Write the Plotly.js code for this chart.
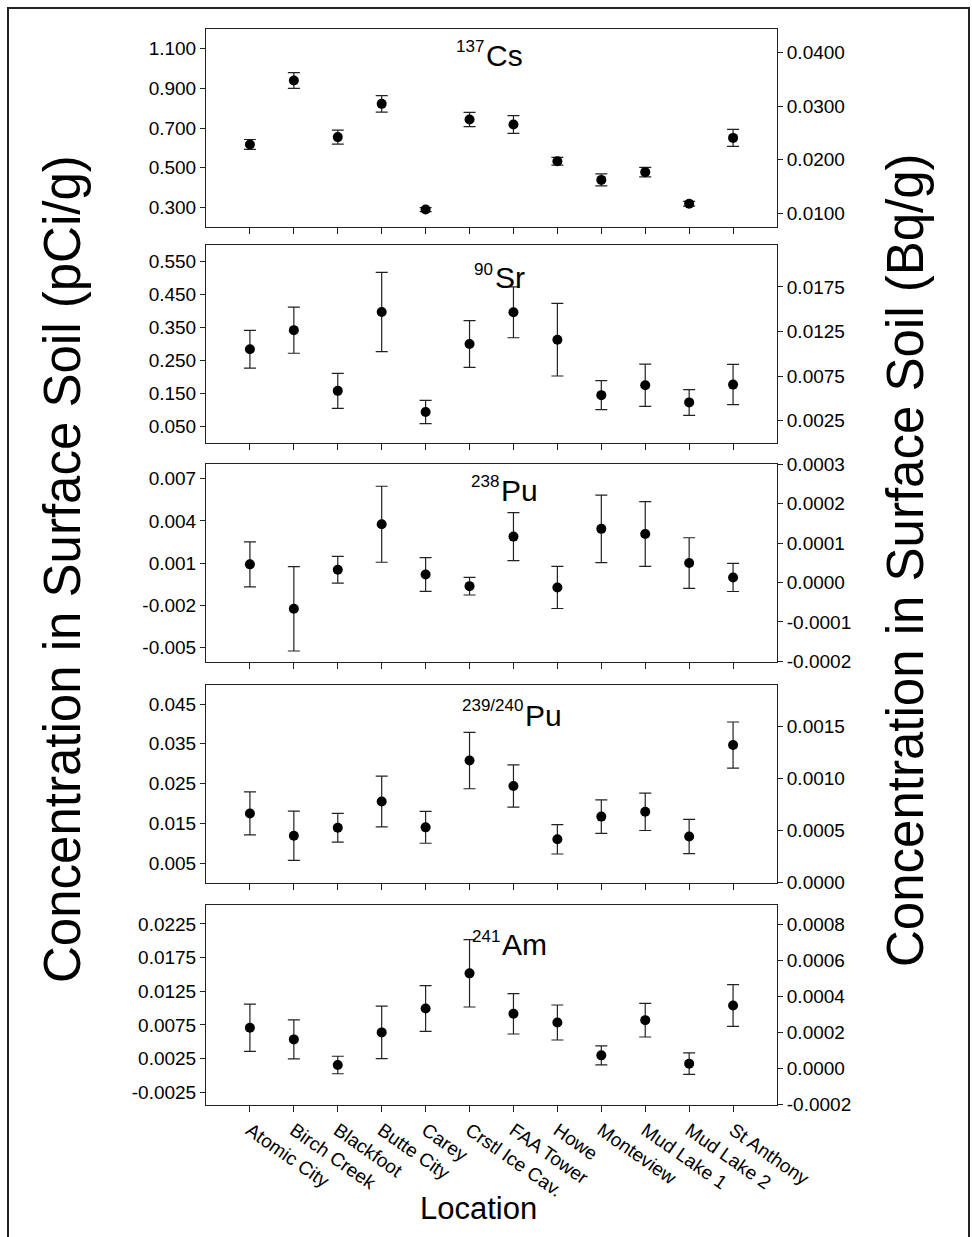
<!DOCTYPE html>
<html>
<head>
<meta charset="utf-8">
<script src="https://cdn.plot.ly/plotly-3.0.1.min.js"></script>
<style>
html,body{margin:0;padding:0;background:#fff;}
#chart{width:972px;height:1237px;}
</style>
</head>
<body>
<div id="chart"></div>
<script>
// ---------------- data ----------------
const locations = ["Atomic City","Birch Creek","Blackfoot","Butte City","Carey","Crstl Ice Cav.",
                   "FAA Tower","Howe","Monteview","Mud Lake 1","Mud Lake 2","St Anthony"];

const cs137    = [0.617, 0.940, 0.654, 0.822, 0.288, 0.743, 0.718, 0.532, 0.438, 0.477, 0.317, 0.650];
const cs137Err = [0.025, 0.040, 0.035, 0.042, 0.010, 0.036, 0.045, 0.020, 0.030, 0.024, 0.012, 0.043];

const sr90     = [0.284, 0.342, 0.158, 0.397, 0.094, 0.300, 0.396, 0.313, 0.145, 0.175, 0.123, 0.177];
const sr90Err  = [0.057, 0.070, 0.053, 0.120, 0.035, 0.071, 0.077, 0.110, 0.044, 0.064, 0.039, 0.061];

const pu238    = [0.00092, -0.00224, 0.00054, 0.00377, 0.00020, -0.00063, 0.00289, -0.00072, 0.00344, 0.00308, 0.00101, -0.00001];
const pu238Err = [0.0016, 0.0030, 0.00095, 0.0027, 0.0012, 0.00063, 0.0017, 0.0015, 0.0024, 0.0023, 0.0018, 0.0010];

const pu239    = [0.0175, 0.0119, 0.0139, 0.0205, 0.0140, 0.0308, 0.0244, 0.0110, 0.0167, 0.0179, 0.0117, 0.0347];
const pu239Err = [0.0054, 0.0062, 0.0036, 0.0064, 0.0040, 0.0071, 0.0053, 0.0037, 0.0042, 0.0047, 0.0043, 0.0058];

const am241    = [0.00707, 0.00534, 0.00154, 0.00638, 0.00993, 0.01515, 0.00914, 0.00785, 0.00297, 0.00820, 0.00174, 0.01037];
const am241Err = [0.0035, 0.0029, 0.0013, 0.0039, 0.0034, 0.0050, 0.0030, 0.0026, 0.0014, 0.0025, 0.0016, 0.0031];

// tick labels (left: pCi/g, right: Bq/g)
const csTicksL  = ["0.300","0.500","0.700","0.900","1.100"];
const csTicksR  = ["0.0100","0.0200","0.0300","0.0400"];
const srTicksL  = ["0.050","0.150","0.250","0.350","0.450","0.550"];
const srTicksR  = ["0.0025","0.0075","0.0125","0.0175"];
const p238TicksL = ["-0.005","-0.002","0.001","0.004","0.007"];
const p238TicksR = ["-0.0002","-0.0001","0.0000","0.0001","0.0002","0.0003"];
const p239TicksL = ["0.005","0.015","0.025","0.035","0.045"];
const p239TicksR = ["0.0000","0.0005","0.0010","0.0015"];
const amTicksL  = ["-0.0025","0.0025","0.0075","0.0125","0.0175","0.0225"];
const amTicksR  = ["-0.0002","0.0000","0.0002","0.0004","0.0006","0.0008"];

// ---------------- layout helpers ----------------
const W = 972, H = 1237;
const FONT = "Liberation Sans, Arial, Helvetica, sans-serif";
const INK = "#222";
const TICK = 19;
const px = v => v / W;
const py = v => 1 - v / H;

const xDom = [px(206), px(777)];
const panels = [
  {y: cs137, e: cs137Err, top: 29,  bot: 227, rangeL: [0.2, 1.2],       tL: csTicksL,  rangeR: [0.0074, 0.0444],      tR: csTicksR,
   sup: "137", sym: "Cs", bx: 485, supY: 47, symY: 55},
  {y: sr90,  e: sr90Err,  top: 245, bot: 443, rangeL: [0, 0.6],         tL: srTicksL,  rangeR: [0, 0.0222],           tR: srTicksR,
   sup: "90", sym: "Sr", bx: 494, supY: 269, symY: 277},
  {y: pu238, e: pu238Err, top: 464, bot: 662, rangeL: [-0.00602, 0.00805], tL: p238TicksL, rangeR: [-0.000202, 0.000301], tR: p238TicksR,
   sup: "238", sym: "Pu", bx: 500, supY: 481, symY: 490},
  {y: pu239, e: pu239Err, top: 685, bot: 883, rangeL: [0, 0.0498],      tL: p239TicksL, rangeR: [-0.000005, 0.0019],  tR: p239TicksR,
   sup: "239/240", sym: "Pu", bx: 524, supY: 705, symY: 715},
  {y: am241, e: am241Err, top: 905, bot: 1105, rangeL: [-0.0044, 0.0253], tL: amTicksL, rangeR: [-0.000202, 0.000906], tR: amTicksR,
   sup: "241", sym: "Am", bx: 501, supY: 936, symY: 945}
];

const data = [];
const layout = {
  width: W, height: H,
  margin: {l: 0, r: 0, t: 0, b: 0},
  paper_bgcolor: "#fff", plot_bgcolor: "#fff",
  showlegend: false,
  font: {family: FONT, color: "#000"},
  annotations: [], shapes: []
};

panels.forEach((p, i) => {
  const n = i + 1;
  const xa = n === 1 ? "xaxis" : "xaxis" + n;
  const ya = n === 1 ? "yaxis" : "yaxis" + n;
  const yr = "yaxis" + (n + 5);
  const xRef = n === 1 ? "x" : "x" + n;
  const yRef = n === 1 ? "y" : "y" + n;
  const yRefR = "y" + (n + 5);

  data.push({
    type: "scatter", mode: "markers",
    x: locations, y: p.y, xaxis: xRef, yaxis: yRef,
    marker: {color: "#000", size: 10, symbol: "circle"},
    error_y: {type: "data", array: p.e, visible: true, color: INK, thickness: 1.2, width: 6},
    hoverinfo: "skip"
  });
  // empty trace so the right-hand (Bq/g) axis is built
  data.push({type: "scatter", mode: "markers", x: [], y: [], xaxis: xRef, yaxis: yRefR, hoverinfo: "skip"});

  const dom = [py(p.bot), py(p.top)];
  layout[xa] = {
    domain: xDom, anchor: yRef, type: "category", range: [-1, 12],
    showline: true, linecolor: INK, linewidth: 1, mirror: true,
    ticks: "outside", ticklen: 6, tickwidth: 1, tickcolor: INK,
    showgrid: false, zeroline: false, fixedrange: true,
    showticklabels: n === 5, tickangle: 35,
    tickfont: {family: FONT, size: TICK, color: "#000"}
  };
  layout[ya] = {
    domain: dom, anchor: xRef, range: p.rangeL, autorange: false,
    showline: true, linecolor: INK, linewidth: 1,
    ticks: "outside", ticklen: 5, tickwidth: 1, tickcolor: INK,
    tickmode: "array", tickvals: p.tL.map(Number), ticktext: p.tL,
    showgrid: false, zeroline: false, fixedrange: true,
    tickfont: {family: FONT, size: TICK, color: "#000"}
  };
  layout[yr] = {
    overlaying: yRef, anchor: xRef, side: "right", range: p.rangeR, autorange: false,
    showline: true, linecolor: INK, linewidth: 1,
    ticks: "outside", ticklen: 5, tickwidth: 1, tickcolor: INK,
    tickmode: "array", tickvals: p.tR.map(Number), ticktext: p.tR,
    showgrid: false, zeroline: false, fixedrange: true,
    tickfont: {family: FONT, size: TICK, color: "#000"}
  };

  layout.annotations.push({
    xref: "paper", yref: "paper", x: px(p.bx), y: py(p.supY),
    xanchor: "right", yanchor: "middle", text: p.sup, showarrow: false,
    font: {family: FONT, size: 17, color: "#000"}, borderpad: 0
  });
  layout.annotations.push({
    xref: "paper", yref: "paper", x: px(p.bx), y: py(p.symY),
    xanchor: "left", yanchor: "middle", text: p.sym, showarrow: false,
    font: {family: FONT, size: 30, color: "#000"}, borderpad: 0
  });
});

// axis titles
layout.annotations.push({
  xref: "paper", yref: "paper", x: px(62), y: py(569), xanchor: "center", yanchor: "middle",
  text: "Concentration in Surface Soil (pCi/g)", textangle: -90, showarrow: false,
  font: {family: FONT, size: 51, color: "#000"}
});
layout.annotations.push({
  xref: "paper", yref: "paper", x: px(905), y: py(560), xanchor: "center", yanchor: "middle",
  text: "Concentration in Surface Soil (Bq/g)", textangle: -90, showarrow: false,
  font: {family: FONT, size: 51, color: "#000"}
});
layout.annotations.push({
  xref: "paper", yref: "paper", x: px(478), y: py(1208), xanchor: "center", yanchor: "middle",
  text: "Location", showarrow: false,
  font: {family: FONT, size: 31, color: "#000"}
});

// outer frame
layout.shapes.push({
  type: "rect", xref: "paper", yref: "paper",
  x0: px(8), x1: px(969), y0: -0.05, y1: py(8),
  line: {color: "#222", width: 2}, fillcolor: "rgba(0,0,0,0)"
});

Plotly.newPlot("chart", data, layout, {displayModeBar: false, staticPlot: true});
</script>
</body>
</html>
